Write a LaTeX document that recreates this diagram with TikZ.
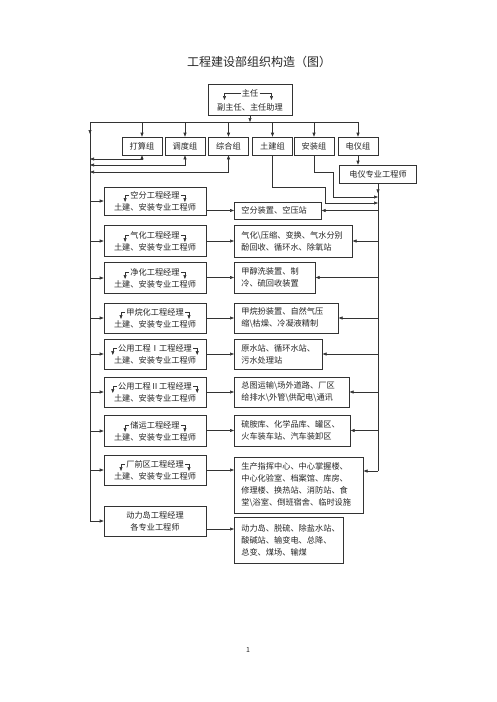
\documentclass[tikz,border=0pt]{standalone}
\usepackage{fontspec}
\setmainfont{Noto Sans CJK SC}
\usetikzlibrary{calc, arrows.meta, shadows}

\tikzset{
  arr/.style={-{Triangle[length=4pt,width=3pt]}},
  darr/.style={{Triangle[length=4pt,width=3pt]}-{Triangle[length=4pt,width=3pt]}},
  txt/.style={inner sep=1pt, text=black!85, font=\fontsize{8.2}{12}\selectfont},
  shd/.style={drop shadow={shadow xshift=0.7pt, shadow yshift=-0.7pt, fill=black!45, opacity=1}},
  gbox/.style={draw=black!80, txt, minimum width=40pt, minimum height=18pt},
  mbox/.style={draw=black!80, fill=white, shd, line width=0.6pt, minimum width=102pt},
  sbox/.style={draw=black!80, fill=white, shd, line width=0.6pt, anchor=west},
  stxt/.style={txt, anchor=west, align=left},
}

\begin{document}
\begin{tikzpicture}[x=1pt, y=-1pt, line width=0.6pt, draw=black!80]
  \useasboundingbox (0,0) rectangle (496,702);

  \node[txt, font=\fontsize{12}{14}\selectfont] (title) at (259,62) {工程建设部组织构造（图）};

  % 主任
  \node[mbox, minimum width=84pt, minimum height=31pt] (zhu) at (250,99.5) {};
  \node[txt] (zhuA) at (250,93) {主任};
  \node[txt] (zhuB) at (250,107) {副主任、主任助理};
  \draw[arr] (zhuA.west) -- ++(-16,0) -- ++(0,7);
  \draw[arr] (zhuA.east) -- ++(12,0) -- ++(0,7);

  % 各组
  \foreach \i/\x/\t in {1/142/打算组, 2/185/调度组, 3/228.5/综合组,
                        4/272.5/土建组, 5/314/安装组, 6/358/电仪组}
    \node[gbox] (g\i) at (\x,146) {\t};
  \node[gbox, fill=white, shd, minimum width=77pt] (dy) at (378,174) {电仪专业工程师};

  \coordinate (lbt) at (90,122);
  \coordinate (lbb) at (90,521);
  \coordinate (rbb) at (378,471);
  \draw[arr] (zhu.south) -- (zhu.south |- lbt);
  \draw (lbt) -- (lbt -| g6.north);
  \draw[arr] (lbt) -- ++(0,12);
  \foreach \i in {1,...,6}
    \draw[arr] (g\i.north |- lbt) -- (g\i.north);
  \draw[arr] (g6.south) -- (g6.south |- dy.north);

  % 回线
  \coordinate (b1) at (90,159);
  \coordinate (b2) at (90,165);
  \coordinate (b3) at (90,172);
  \foreach \i in {1,2,3}
    \draw[darr] (b\i) -| (g\i.south);

  % 土建、安装 -> 右侧
  \coordinate (tj) at (325,187);
  \coordinate (tje) at (378,203);
  \coordinate (az) at (333,172);
  \coordinate (aze) at (378,197);
  \draw[arr] (g4.south) |- (tj) |- (tje);
  \draw[arr] (g5.south) |- (az) |- (aze);
  \draw[arr] (dy.south) -- ++(0,10);
  \draw (dy.south) -- (rbb);

  % 工程经理
  \foreach \i/\cy/\h/\name in {1/201/28/空分工程经理, 2/241/31/气化工程经理,
      3/278/31/净化工程经理, 4/318/30/甲烷化工程经理, 5/354/30/公用工程Ⅰ工程经理,
      6/392/30/公用工程Ⅱ工程经理, 7/431/31/储运工程经理, 8/470/30/厂前区工程经理} {
    \node[mbox, minimum height=\h pt] (m\i) at (155,\cy) {};
    \node[txt] (ma\i) at (155,\cy-6) {\name};
    \node[txt] (mb\i) at (155,\cy+6) {土建、安装专业工程师};
    \draw[arr] (ma\i.west) -- ++(-4,0) -- ++(0,7);
    \draw[arr] (ma\i.east) -- ++(4,0) -- ++(0,7);
    \draw[arr] (m\i.west -| lbt) -- (m\i.west);
  }
  \node[mbox, minimum height=30pt] (m9) at (155,521) {};
  \node[txt] (ma9) at (155,515) {动力岛工程经理};
  \node[txt] (mb9) at (155,527) {各专业工程师};
  \draw (lbt) -- (lbb);
  \draw[arr] (lbb) -- (m9.west);

  % 装置
  \foreach \i/\cy/\w/\h in {1/210.5/87/17, 2/241/118/32, 3/277.5/81/31, 4/318/104/30,
      5/354/88/30, 6/392/115/30, 7/430.5/116/31, 8/485/129/56, 9/540/109/46}
    \node[sbox, minimum width=\w pt, minimum height=\h pt] (s\i) at (234,\cy) {};
  \node[stxt] (st1) at ([xshift=6pt]s1.west) {空分装置、空压站};
  \node[stxt] (st2) at ([xshift=6pt]s2.west) {气化\textbackslash 压缩、变换、气水分别\\酚回收、循环水、除氧站};
  \node[stxt] (st3) at ([xshift=6pt]s3.west) {甲醇洗装置、制\\冷、硫回收装置};
  \node[stxt] (st4) at ([xshift=6pt]s4.west) {甲烷扮装置、自然气压\\缩\textbackslash 枯燥、冷凝液精制};
  \node[stxt] (st5) at ([xshift=6pt]s5.west) {原水站、循环水站、\\污水处理站};
  \node[stxt] (st6) at ([xshift=6pt]s6.west) {总图运输\textbackslash 场外道路、厂区\\给排水\textbackslash 外管\textbackslash 供配电\textbackslash 通讯};
  \node[stxt] (st7) at ([xshift=6pt]s7.west) {硫胺库、化学品库、罐区、\\火车装车站、汽车装卸区};
  \node[stxt] (st8) at ([xshift=6pt]s8.west) {生产指挥中心、中心掌握楼、\\中心化验室、档案馆、库房、\\修理楼、换热站、消防站、食\\堂\textbackslash 浴室、倒班宿舍、临时设施};
  \node[stxt] (st9) at ([xshift=6pt]s9.west) {动力岛、脱硫、除盐水站、\\酸碱站、输变电、总降、\\总变、煤场、输煤};

  \foreach \i in {1,...,7} {
    \draw[arr] (s\i.west -| m\i.east) -- (s\i.west);
    \draw[arr] (s\i.east -| rbb) -- (s\i.east);
  }
  \draw[arr] (m8.east) -- (m8.east -| s8.west);
  \draw[arr] (rbb) -- (rbb -| s8.east);
  \coordinate (p9) at (206,529);
  \draw[arr] (p9) -- (p9 -| s9.west);

  \node[txt, font=\fontsize{7}{8}\selectfont] (page) at (248,650) {1};
\end{tikzpicture}
\end{document}
